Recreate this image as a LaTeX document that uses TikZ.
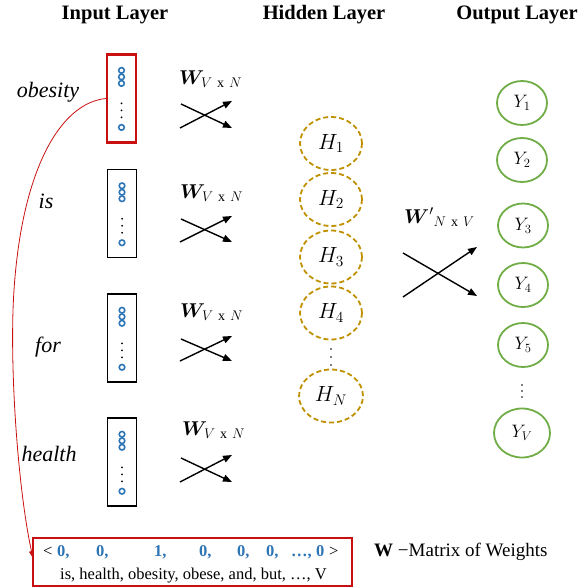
\RequirePackage{fix-cm}
\documentclass[tikz,border=0pt]{standalone}
\usepackage{amsmath}
\usepackage{bm}
\usepackage{fontspec}
\setmainfont{Liberation Serif}
\usetikzlibrary{arrows.meta,shapes.geometric}
\definecolor{dblue}{RGB}{46,117,182}
\definecolor{gold}{RGB}{191,144,0}
\definecolor{ygreen}{RGB}{112,173,71}
\definecolor{dred}{RGB}{200,16,16}
\tikzset{
  title/.style={font=\fontsize{20.5}{24}\selectfont\bfseries, anchor=base, inner sep=0pt},
  word/.style={font=\fontsize{22}{26}\selectfont\itshape, anchor=base, inner sep=0pt},
  inbox/.style={draw=black, line width=1.5pt, minimum width=29pt, minimum height=88pt, inner sep=0pt},
  unit/.style={draw=dblue, line width=1.6pt},
  wlab/.style={font=\fontsize{20}{24}\selectfont, anchor=base west, inner sep=0pt},
  xarrow/.style={-{Triangle[length=9pt,width=7pt]}, line width=1.4pt},
  hid/.style={ellipse, draw=gold, dash pattern=on 5pt off 3pt, line width=1.8pt, minimum width=62pt, minimum height=53pt, inner sep=0pt, font=\fontsize{22}{26}\selectfont},
  outn/.style={ellipse, draw=ygreen, line width=1.8pt, minimum width=50pt, minimum height=44pt, inner sep=0pt, font=\fontsize{18}{22}\selectfont},
  num/.style={font=\fontsize{16.5}{20}\selectfont\bfseries, text=dblue, anchor=base west, inner sep=0pt},
  btext/.style={font=\fontsize{16.5}{20}\selectfont, anchor=base west, inner sep=0pt},
}
\begin{document}
\begin{tikzpicture}[x=1pt,y=-1pt]
\useasboundingbox (0,0) rectangle (588,588);
% titles
\node[title] (t1) at (115,19.5) {Input Layer};
\node[title] (t2) at (324,19.5) {Hidden Layer};
\node[title] (t3) at (517,19.5) {Output Layer};
% input boxes
\node[inbox, draw=dred, line width=2.2pt] (b1) at (121.5,98.5) {};
\node[inbox] (b2) at (122,213.5) {};
\node[inbox] (b3) at (122,338) {};
\node[inbox] (b4) at (122,462) {};
\foreach \b in {b1,b2,b3,b4}{
  \draw[unit] ([yshift=-17pt]\b.north) circle (2.8pt);
  \draw[unit] ([yshift=-23.5pt]\b.north) circle (2.8pt);
  \draw[unit] ([yshift=-30pt]\b.north) circle (2.8pt);
  \fill ([yshift=-50pt]\b.north) circle (1pt);
  \fill ([yshift=-57pt]\b.north) circle (1pt);
  \fill ([yshift=-64pt]\b.north) circle (1pt);
  \draw[unit] ([yshift=-74pt]\b.north) circle (2.8pt);
}
% words
\node[word] (w1) at (48,98) {obesity};
\node[word] (w2) at (46,208) {is};
\node[word] (w3) at (48,352) {for};
\node[word] (w4) at (49,461) {health};
% weight labels
\node[wlab] (l1) at (179,85) {$\bm{W}_{V\ \mathrm{x}\ N}$};
\node[wlab] (l2) at (180,198) {$\bm{W}_{V\ \mathrm{x}\ N}$};
\node[wlab] (l3) at (180,317) {$\bm{W}_{V\ \mathrm{x}\ N}$};
\node[wlab] (l4) at (182,435) {$\bm{W}_{V\ \mathrm{x}\ N}$};
% crossed arrows
\foreach \i/\ya/\yb in {1/101/128,2/216/242,3/336/361,4/455/482}{
  \coordinate (us\i) at (180,\yb);
  \coordinate (ue\i) at (232,\ya);
  \coordinate (ds\i) at (181,\ya+3);
  \coordinate (de\i) at (232,\yb);
  \draw[xarrow] (us\i) -- (ue\i);
  \draw[xarrow] (ds\i) -- (de\i);
}
% hidden layer
\node[hid] (h1) at (331,143.5) {$H_1$};
\node[hid] (h2) at (331,199.5) {$H_2$};
\node[hid] (h3) at (331,257) {$H_3$};
\node[hid] (h4) at (331,313) {$H_4$};
\node[hid, minimum width=64pt] (hn) at (331,396) {$H_N$};
\fill (331,349) circle (0.9pt);
\fill (331,357) circle (0.9pt);
\fill (331,365) circle (0.9pt);
% output layer
\node[outn] (y1) at (522,103) {$Y_1$};
\node[outn] (y2) at (522,160) {$Y_2$};
\node[outn] (y3) at (523,225.5) {$Y_3$};
\node[outn] (y4) at (523,285) {$Y_4$};
\node[outn] (y5) at (523,345) {$Y_5$};
\node[outn, minimum width=56pt, minimum height=49pt] (yv) at (522,433) {$Y_V$};
\fill (522,385) circle (0.9pt);
\fill (522,391) circle (0.9pt);
\fill (522,397) circle (0.9pt);
% output weights
\node[wlab] (lw) at (404,223) {${\bm{W}'}_{N\ \mathrm{x}\ V}$};
\coordinate (os1) at (403,253);
\coordinate (oe1) at (477,296);
\coordinate (os2) at (403,297);
\coordinate (oe2) at (477,247);
\draw[xarrow] (os1) -- (oe1);
\draw[xarrow] (os2) -- (oe2);
% one-hot vector box
\node[draw=dred, line width=1.8pt, minimum width=319pt, minimum height=48pt, inner sep=0pt] (vec) at (192.5,562) {};
\node[btext] (lt) at (43,556) {<};
\foreach \x/\t [count=\i] in {57/0,96/0,154/1,199/0,237/0,266/0,291/…}{
  \node[num] (n\i) at (\x,556) {\t,};
}
\node[num] (n8) at (316,556) {0};
\node[btext] (gt) at (329,556) {>};
\node[btext] (vocab) at (60,579) {is, health, obesity, obese, and, but, …, V};
% legend
\node[font=\fontsize{19}{22}\selectfont, anchor=base west, inner sep=0pt] (leg) at (374,556) {\textbf{W} −Matrix of Weights};
% red curve
\coordinate (ve) at (33,558);
\draw[dred, line width=0.8pt, -{Triangle[length=7pt,width=5pt]}] (b1.west) .. controls (60,103) and (22,170) .. (14,290) .. controls (9,365) and (18,490) .. (ve);
\end{tikzpicture}
\end{document}
